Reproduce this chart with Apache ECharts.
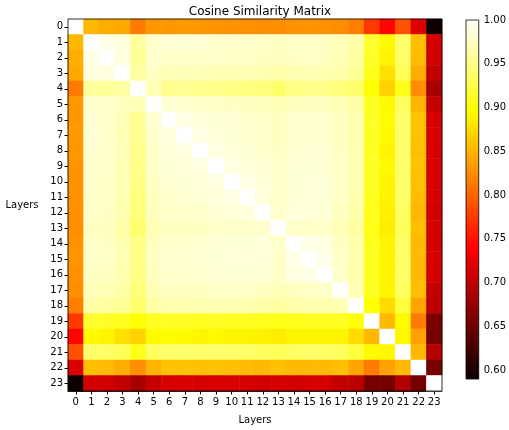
<!DOCTYPE html>
<html><head><meta charset="utf-8">
<script src="https://cdn.jsdelivr.net/npm/echarts@6/dist/echarts.min.js"></script>
<style>html,body{margin:0;padding:0;background:#fff}#c{width:509px;height:430px}</style>
</head><body><div id="c"></div>
<script>
const layers = ['0','1','2','3','4','5','6','7','8','9','10','11','12','13','14','15','16','17','18','19','20','21','22','23'];
const row0 = [1,.853,.845,.843,.815,.833,.832,.834,.833,.830,.829,.828,.827,.826,.829,.830,.828,.826,.817,.774,.742,.790,.718,.591];
const row1 = [.853,1,.990,.985,.960,.980,.982,.983,.982,.980,.980,.978,.977,.975,.977,.978,.976,.972,.965,.915,.893,.940,.856,.713];
const row2 = [.845,.990,1,.987,.958,.980,.978,.979,.978,.978,.977,.977,.976,.974,.976,.977,.975,.970,.962,.912,.890,.937,.855,.712];
const row3 = [.843,.985,.987,1,.962,.975,.972,.971,.972,.970,.970,.969,.968,.965,.968,.969,.967,.965,.958,.908,.877,.932,.845,.703];
const row4 = [.815,.960,.958,.962,1,.970,.955,.955,.953,.952,.950,.948,.945,.940,.950,.952,.950,.945,.940,.897,.868,.905,.826,.685];
const row5 = [.833,.980,.980,.975,.970,1,.982,.980,.978,.977,.976,.975,.973,.970,.974,.975,.974,.970,.963,.910,.893,.935,.850,.705];
const row6 = [.832,.982,.978,.972,.955,.982,1,.988,.985,.983,.982,.980,.978,.975,.980,.981,.980,.975,.967,.912,.895,.940,.858,.715];
const row7 = [.834,.983,.979,.971,.955,.980,.988,1,.988,.985,.983,.981,.979,.975,.980,.981,.980,.975,.967,.911,.893,.940,.858,.716];
const row8 = [.833,.982,.978,.972,.953,.978,.985,.988,1,.988,.985,.983,.980,.976,.981,.982,.981,.976,.968,.910,.890,.939,.857,.715];
const row9 = [.830,.980,.978,.970,.952,.977,.983,.985,.988,1,.988,.985,.982,.977,.982,.983,.982,.977,.968,.911,.893,.940,.858,.716];
const row10 = [.829,.980,.977,.970,.950,.976,.982,.983,.985,.988,1,.988,.984,.978,.983,.984,.983,.977,.968,.910,.890,.939,.857,.716];
const row11 = [.828,.978,.977,.969,.948,.975,.980,.981,.983,.985,.988,1,.986,.978,.983,.984,.983,.977,.967,.909,.889,.938,.855,.715];
const row12 = [.827,.977,.976,.968,.945,.973,.978,.979,.980,.982,.984,.986,1,.980,.985,.984,.983,.975,.965,.907,.887,.936,.852,.712];
const row13 = [.826,.975,.974,.965,.940,.970,.975,.975,.976,.977,.978,.978,.980,1,.978,.977,.977,.972,.962,.905,.885,.933,.856,.714];
const row14 = [.829,.977,.976,.968,.950,.974,.980,.980,.981,.982,.983,.983,.985,.978,1,.990,.988,.976,.966,.908,.889,.937,.853,.713];
const row15 = [.830,.978,.977,.969,.952,.975,.981,.981,.982,.983,.984,.984,.984,.977,.990,1,.990,.977,.967,.909,.890,.938,.853,.715];
const row16 = [.828,.976,.975,.967,.950,.974,.980,.980,.981,.982,.983,.983,.983,.977,.988,.990,1,.978,.967,.909,.890,.938,.853,.714];
const row17 = [.826,.972,.970,.965,.945,.970,.975,.975,.976,.977,.977,.977,.975,.972,.976,.977,.978,1,.970,.910,.890,.935,.856,.703];
const row18 = [.817,.965,.962,.958,.940,.963,.967,.967,.968,.968,.968,.967,.965,.962,.966,.967,.967,.970,1,.898,.874,.920,.840,.698];
const row19 = [.774,.915,.912,.908,.897,.910,.912,.911,.910,.911,.910,.909,.907,.905,.908,.909,.909,.910,.898,1,.853,.895,.815,.658];
const row20 = [.742,.893,.890,.877,.868,.893,.895,.893,.890,.893,.890,.889,.887,.885,.889,.890,.890,.890,.874,.853,1,.892,.838,.655];
const row21 = [.790,.940,.937,.932,.905,.935,.940,.940,.939,.940,.939,.938,.936,.933,.937,.938,.938,.935,.920,.895,.892,1,.853,.693];
const row22 = [.718,.856,.855,.845,.826,.850,.858,.858,.857,.858,.857,.855,.852,.856,.853,.853,.853,.856,.840,.815,.838,.853,1,.655];
const row23 = [.591,.713,.712,.703,.685,.705,.715,.716,.715,.716,.716,.715,.712,.714,.713,.715,.714,.703,.698,.658,.655,.693,.655,1];
const colorbarTicks = [0.60,0.65,0.70,0.75,0.80,0.85,0.90,0.95,1.00];
const vMin = 0.59, vMax = 1.0;

const rows = [row0,row1,row2,row3,row4,row5,row6,row7,row8,row9,row10,row11,row12,row13,row14,row15,row16,row17,row18,row19,row20,row21,row22,row23];
const cells = [];
rows.forEach((r, i) => r.forEach((v, j) => cells.push([j, i, v])));

// matplotlib 'hot' colormap sampled as visual stops
function hot(t){
  const r = Math.min(1, Math.max(0, 0.0416 + (1-0.0416)*t/0.365));
  const g = Math.min(1, Math.max(0, (t-0.365)/(0.746-0.365)));
  const b = Math.min(1, Math.max(0, (t-0.746)/(1-0.746)));
  return 'rgb(' + Math.round(r*255) + ',' + Math.round(g*255) + ',' + Math.round(b*255) + ')';
}
const stops = [];
for (let k = 0; k <= 64; k++) stops.push(hot(k/64));
const gradStops = [];
for (let k = 0; k <= 64; k++) gradStops.push({offset: k/64, color: hot(1 - k/64)});

const F = 'DejaVu Sans';
const chart = echarts.init(document.getElementById('c'), null, {renderer:'canvas'});
chart.setOption({
  animation: false,
  backgroundColor: '#fff',
  textStyle: {fontFamily: F},
  title: {text: 'Cosine Similarity Matrix', left: 255, top: 1, textAlign: 'center',
    textStyle: {fontFamily: F, fontSize: 12, fontWeight: 'normal', color: '#000'}},
  grid: [
    {left: 68, top: 19, width: 374, height: 375, show: true, borderColor: '#000', borderWidth: 0.8, backgroundColor: 'transparent', z: 5},
    {left: 466, top: 20, width: 20, height: 359}
  ],
  xAxis: [
    {type: 'category', data: layers, gridIndex: 0, position: 'bottom',
     name: 'Layers', nameLocation: 'middle', nameGap: 24,
     nameTextStyle: {fontFamily: F, fontSize: 10, color: '#000'},
     axisLine: {show: true, lineStyle: {color: '#000', width: 0.8}},
     axisTick: {show: true, alignWithLabel: true, length: 3.5, lineStyle: {color: '#000'}},
     axisLabel: {interval: 0, fontFamily: F, fontSize: 10, color: '#000', margin: 6},
     splitLine: {show: false}},
    {type: 'value', gridIndex: 1, min: 0, max: 1, show: false}
  ],
  yAxis: [
    {type: 'category', data: layers, gridIndex: 0, inverse: true,
     name: 'Layers', nameLocation: 'middle', nameGap: 46, nameRotate: 0,
     nameTextStyle: {fontFamily: F, fontSize: 10, color: '#000', align: 'center'},
     axisLine: {show: true, lineStyle: {color: '#000', width: 0.8}},
     axisTick: {show: true, alignWithLabel: true, length: 3.5, lineStyle: {color: '#000'}},
     axisLabel: {interval: 0, fontFamily: F, fontSize: 10, color: '#000', margin: 5},
     splitLine: {show: false}},
    {type: 'value', gridIndex: 1, min: vMin, max: vMax, position: 'right',
     axisLine: {show: false},
     axisTick: {show: true, length: 3.5, lineStyle: {color: '#000'}, customValues: colorbarTicks},
     axisLabel: {fontFamily: F, fontSize: 10, color: '#000', margin: 5, customValues: colorbarTicks,
       formatter: v => v.toFixed(2)},
     splitLine: {show: false}}
  ],
  visualMap: {type: 'continuous', show: false, min: vMin, max: vMax, seriesIndex: 0,
    inRange: {color: stops}},
  series: [
    {type: 'heatmap', xAxisIndex: 0, yAxisIndex: 0, data: cells,
     itemStyle: {borderWidth: 0}, emphasis: {disabled: true}, progressive: 0},
    {type: 'custom', xAxisIndex: 1, yAxisIndex: 1, data: [[0, vMin, 1, vMax]],
     renderItem: (params, api) => {
       const p0 = api.coord([api.value(0), api.value(1)]);
       const p1 = api.coord([api.value(2), api.value(3)]);
       return {type: 'rect', shape: {x: p0[0], y: p1[1], width: p1[0]-p0[0], height: p0[1]-p1[1]},
         style: {fill: {type: 'linear', x: 0, y: 0, x2: 0, y2: 1, colorStops: gradStops}, stroke: '#000', lineWidth: 0.8}};
     }}
  ]
});
</script></body></html>
